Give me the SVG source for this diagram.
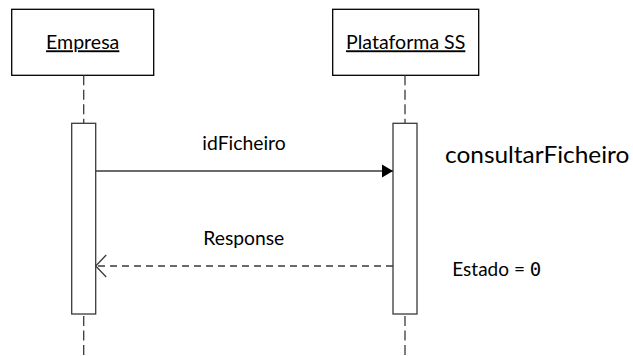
<svg xmlns="http://www.w3.org/2000/svg" width="633" height="356" viewBox="0 0 633 356">
<style>
  .box { fill: #ffffff; stroke: #000000; stroke-width: 1.3; }
  .act { fill: #ffffff; stroke: #3a3a3a; stroke-width: 1.3; }
  .life { stroke: #3a3a3a; stroke-width: 1.3; stroke-dasharray: 10 4.5; fill: none; }
  .msg { stroke: #3a3a3a; stroke-width: 1.3; fill: none; }
  .ret { stroke: #3a3a3a; stroke-width: 1.3; fill: none; stroke-dasharray: 7 5; }
  .t { font-family: Lato, "Liberation Sans", sans-serif; fill: #000000; }
  .hdr { font-size: 19px; text-decoration: underline; }
  .lbl { font-size: 19px; }
  .big { font-size: 24px; }
</style>
<defs>
  <marker id="filled" markerWidth="12" markerHeight="14" refX="11" refY="7" orient="auto" markerUnits="userSpaceOnUse">
    <path d="M0,0.5 L11,7 L0,13.5 Z" fill="#000000"/>
  </marker>
  <marker id="open" markerWidth="14" markerHeight="26" refX="12" refY="12" orient="auto" markerUnits="userSpaceOnUse">
    <path d="M1.5,1 L12,12 L1.5,23" fill="none" stroke="#3a3a3a" stroke-width="1.3"/>
  </marker>
</defs>
<rect width="633" height="356" fill="#ffffff"/>
<g id="empresa">
  <rect class="box" x="11.7" y="9.3" width="142" height="66"/>
  <text class="t hdr" x="82.7" y="49.3" text-anchor="middle" textLength="73.3" lengthAdjust="spacingAndGlyphs">Empresa</text>
  <line class="life" x1="83.7" y1="75.3" x2="83.7" y2="123.3"/>
  <line class="life" x1="83.7" y1="314" x2="83.7" y2="356" style="stroke-dashoffset:-2"/>
  <rect class="act" x="71.7" y="123.3" width="24" height="190.7"/>
</g>
<g id="plataforma">
  <rect class="box" x="332.7" y="9.3" width="146" height="66"/>
  <text class="t hdr" x="405.7" y="49.3" text-anchor="middle" textLength="119.3" lengthAdjust="spacingAndGlyphs">Plataforma SS</text>
  <line class="life" x1="405" y1="75.3" x2="405" y2="123.3"/>
  <line class="life" x1="405" y1="314" x2="405" y2="356" style="stroke-dashoffset:-2"/>
  <rect class="act" x="393" y="123.3" width="24" height="190.7"/>
</g>
<g id="consultarFicheiro">
  <text class="t big" x="445" y="163.3" textLength="184.3" lengthAdjust="spacingAndGlyphs">consultarFicheiro</text>
</g>
<g id="estado">
  <text class="t lbl" x="452.3" y="276" font-size="17">Estado = <tspan font-family="DejaVu Sans Mono, monospace">0</tspan></text>
</g>
<g id="connectors">
  <line class="msg" x1="95.7" y1="171" x2="393" y2="171" marker-end="url(#filled)"/>
  <text class="t lbl" x="244" y="150" text-anchor="middle" textLength="83.4" lengthAdjust="spacingAndGlyphs">idFicheiro</text>
  <line class="ret" x1="393" y1="266" x2="95.7" y2="266" marker-end="url(#open)"/>
  <text class="t lbl" x="243.8" y="245" text-anchor="middle" textLength="81" lengthAdjust="spacingAndGlyphs">Response</text>
</g>
</svg>
